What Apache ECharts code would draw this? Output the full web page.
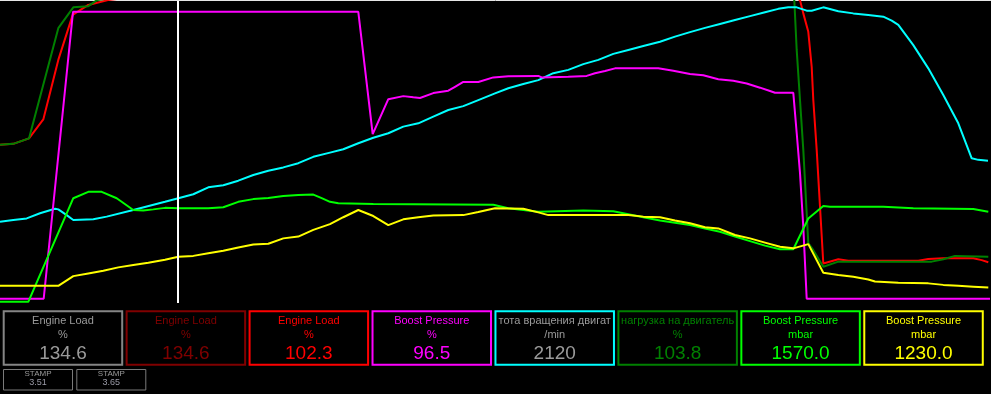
<!DOCTYPE html>
<html>
<head>
<meta charset="utf-8">
<script src="https://cdn.jsdelivr.net/npm/echarts@6/dist/echarts.min.js"></script>
<style>
html,body{margin:0;padding:0;background:#000;}
#c{width:991px;height:394px;}
</style>
</head>
<body>
<div id="c"></div>
<script>
// time axis (s) and cursor position
const timeRange = [0, 99.1];
const cursorTime = 17.8;

// values in % of full scale, [time, value]
const engineLoad = [[0,52.4],[1.33,52.7],[2.9,54.5],[4.33,60.8],[5.83,80.5],[7.27,95.4],[8.83,98.7],[10.8,100.3],[13,101.2],[17.8,102.3],[30,104],[50,105],[70,105],[78,104],[80,100.3],[80.33,95.9],[80.83,89.8],[81.17,78.2],[81.33,67.2],[81.67,50.7],[82,31.9],[82.33,13.1],[82.5,12.6],[83.83,14.5],[84.83,14.0],[91.83,14.0],[92.83,14.6],[94.33,14.8],[97.33,14.8],[98.17,14.2],[98.83,13.5]];

const engineLoadAlt = [[0,52.4],[1.33,52.7],[2.9,54.5],[5.83,91.0],[7.33,97.9],[8.83,98.3],[9.7,100.3],[17.8,103.8],[30,106],[60,107],[78,106],[79.43,100.3],[79.67,83.8],[80,67.2],[80.33,50.7],[80.67,29.7],[80.83,19.8],[81.33,17.5],[82.33,12.0],[83.83,13.7],[93.17,13.7],[94.33,14.5],[95.5,15.6],[98.83,15.3]];

const boostPct = [[0,1.4],[4.37,1.4],[7.3,96.4],[35.83,96.4],[37.27,55.9],[38.83,67.5],[40.33,68.5],[41.33,68.1],[42,67.9],[43.33,69.5],[44.83,70.3],[45.5,71.6],[46.33,73.2],[47.83,73.2],[49.33,74.7],[50.83,75.1],[53.83,75.2],[54.17,74.7],[56.83,74.9],[58.67,75.2],[59.5,76.1],[60.5,76.8],[61.5,77.7],[65.83,77.7],[67.33,76.9],[69,75.8],[70.33,75.4],[71.83,74.1],[73.33,73.6],[74.67,72.7],[76,71.3],[77,70.2],[77.5,69.6],[79.33,69.6],[79.67,56.3],[80,43.0],[80.33,25.2],[80.67,1.4],[99.0,1.4]];

const engineSpeed = [[0,26.9],[1.33,27.5],[2.67,28.0],[4,29.7],[5.5,31.2],[5.83,31.0],[6.67,29.1],[7.33,27.5],[9.33,27.7],[10.67,28.6],[13.33,30.8],[16.5,33.5],[17.83,34.7],[19.33,36.0],[20.83,38.3],[22.33,39.0],[23.83,40.5],[25.33,42.4],[26.83,43.8],[28.33,44.9],[29.83,46.3],[31.33,48.4],[33,49.8],[34.33,50.9],[35.83,52.9],[37.33,54.7],[38.83,56.2],[40.33,58.4],[41.83,59.5],[43.33,61.7],[44.83,63.9],[46.33,65.2],[47.83,67.2],[49.5,69.4],[50.83,71.1],[52.33,72.5],[53.83,73.8],[55.33,76.1],[56.83,77.2],[58.33,79.1],[59.83,80.5],[61.33,82.5],[62.83,83.8],[64.33,85.1],[66,86.5],[67.5,88.2],[69,89.7],[70.5,91.1],[72,92.4],[73.5,93.7],[75,95.0],[76.5,96.3],[77.83,97.4],[78.83,97.9],[79.67,97.9],[80.67,96.8],[81.17,96.8],[82.33,97.9],[83.83,96.6],[85.33,95.9],[86.83,95.4],[88.33,94.8],[89.17,93.5],[89.83,92.1],[91.33,85.4],[92.83,77.7],[94.33,68.9],[95.83,59.5],[97.17,47.9],[97.83,47.4],[98.8,47.1]];

const boostActual = [[0,0.4],[2.83,0.4],[7.33,34.7],[8.83,36.8],[10.17,36.8],[11.67,34.7],[13.33,30.8],[14.33,30.6],[15.33,31.0],[16.5,31.5],[17.83,31.4],[20.83,31.4],[22.33,31.7],[23.83,33.5],[25.33,34.4],[26.83,34.8],[28.33,35.4],[29.83,35.8],[31.33,35.9],[32.17,34.7],[33,33.5],[33.83,33.0],[37.33,32.8],[37.5,32.5],[49.33,32.5],[50.83,31.4],[53.83,30.2],[58.33,30.6],[61.33,30.4],[62.83,29.4],[64.33,28.4],[66,27.3],[67.5,26.6],[69,25.8],[70.5,24.7],[72,23.6],[73.5,22.0],[75,20.5],[76.5,19.0],[78,17.8],[79.33,17.8],[80.83,28.0],[82.33,32.1],[83,31.9],[88.33,31.9],[88.5,31.6],[91.33,31.4],[91.5,31.1],[97.33,31.1],[98.83,30.2]];

const boostSpecified = [[0,5.7],[5.83,5.7],[7.33,8.9],[8.83,9.8],[10.33,10.7],[11.83,11.8],[13.33,12.6],[14.83,13.3],[16.5,14.3],[17.83,15.3],[19.33,15.6],[20.83,16.5],[22.33,17.3],[23.83,18.4],[25.33,19.4],[26.83,19.6],[28.33,21.4],[29.83,22.0],[31.33,24.2],[33,26.1],[34.33,28.4],[35.83,30.8],[37.33,28.8],[38.83,25.8],[40.33,27.7],[41.83,28.4],[43.33,29.0],[46.33,29.1],[47.83,30.1],[49.5,31.4],[52.33,31.2],[53.83,30.0],[54.83,29.1],[62.83,29.1],[64.33,28.6],[66,28.4],[67.5,27.3],[69,26.4],[70.5,25.1],[71.83,24.7],[73.5,22.5],[75,21.4],[76.5,20.0],[78,18.6],[79.33,18.1],[80.83,19.5],[82.33,10.0],[83.83,9.3],[85.33,8.7],[86.83,7.8],[87.5,7.1],[89.83,6.7],[92.83,6.5],[94.33,6.0],[95.83,5.7],[97.33,5.4],[98.83,5.1]];

// readout panels at the cursor
const panelTitles = ['Engine Load','Engine Load','Engine Load','Boost Pressure','тота вращения двигат','нагрузка на двигатель','Boost Pressure','Boost Pressure'];
const panelUnits = ['%','%','%','%','/min','%','mbar','mbar'];
const panelValues = ['134.6','134.6','102.3','96.5','2120','103.8','1570.0','1230.0'];
const stampLabels = ['STAMP','STAMP'];
const stampValues = ['3.51','3.65'];

// styles
const panelBorder = ['#858585','#800000','#ff0000','#ff00ff','#00ffff','#008000','#00ff00','#ffff00'];
const panelText = ['#9a9a9a','#800000','#ff0000','#ff00ff','#9a9a9a','#008000','#00ff00','#ffff00'];
const FONT = '"Liberation Sans", Arial, sans-serif';

const chart = echarts.init(document.getElementById('c'), null, {renderer:'canvas'});

function lineSeries(name, data, color, extra) {
  return Object.assign({
    name, type:'line', data, symbol:'none', showSymbol:false,
    lineStyle:{color, width:2}, itemStyle:{color},
    animation:false, silent:true, clip:true
  }, extra || {});
}

const graphics = [];
graphics.push({type:'line', shape:{x1:0,y1:0.5,x2:991,y2:0.5}, style:{stroke:'#e6e6e6', lineWidth:1}, silent:true});

for (let i = 0; i < panelTitles.length; i++) {
  const left = 2.7 + 122.94 * i;
  const cx = left + 60.25;
  graphics.push({type:'rect', shape:{x:left+1, y:311.3, width:118.5, height:53.4},
    style:{fill:'none', stroke:panelBorder[i], lineWidth:2}, silent:true});
  graphics.push({type:'text', x:cx, y:320.5, style:{text:panelTitles[i], fill:panelText[i], font:'11px '+FONT, textAlign:'center', textVerticalAlign:'middle', align:'center', verticalAlign:'middle'}, silent:true});
  graphics.push({type:'text', x:cx, y:334.5, style:{text:panelUnits[i], fill:panelText[i], font:'11px '+FONT, textAlign:'center', textVerticalAlign:'middle', align:'center', verticalAlign:'middle'}, silent:true});
  graphics.push({type:'text', x:cx, y:353.5, style:{text:panelValues[i], fill:panelText[i], font:'19px '+FONT, textAlign:'center', textVerticalAlign:'middle', align:'center', verticalAlign:'middle'}, silent:true});
}
for (let i = 0; i < stampLabels.length; i++) {
  const left = 3 + 73.3 * i;
  const cx = left + 35;
  graphics.push({type:'rect', shape:{x:left+0.5, y:369.5, width:69, height:20.5},
    style:{fill:'none', stroke:'#7a7a7a', lineWidth:1}, silent:true});
  graphics.push({type:'text', x:cx, y:374, style:{text:stampLabels[i], fill:'#9a9a9a', font:'8px '+FONT, textAlign:'center', textVerticalAlign:'middle', align:'center', verticalAlign:'middle'}, silent:true});
  graphics.push({type:'text', x:cx, y:382.5, style:{text:stampValues[i], fill:'#9a9aa6', font:'9px '+FONT, textAlign:'center', textVerticalAlign:'middle', align:'center', verticalAlign:'middle'}, silent:true});
}

chart.setOption({
  backgroundColor:'#000',
  animation:false,
  grid:{left:0, right:0, top:1, height:302},
  xAxis:{type:'value', min:timeRange[0], max:timeRange[1], show:false},
  yAxis:{type:'value', min:0, max:100, show:false},
  series:[
    lineSeries('Engine Load %', engineLoad, '#ff0000'),
    lineSeries('нагрузка на двигатель %', engineLoadAlt, '#008000'),
    lineSeries('тота вращения двигат /min', engineSpeed, '#00ffff'),
    lineSeries('Boost Pressure %', boostPct, '#ff00ff'),
    lineSeries('Boost Pressure mbar', boostActual, '#00ff00'),
    lineSeries('Boost Pressure mbar (spec)', boostSpecified, '#ffff00', {
      markLine:{silent:true, symbol:['none','none'], animation:false, label:{show:false},
        lineStyle:{color:'#ffffff', width:2, type:'solid'},
        data:[{xAxis:cursorTime}]}
    })
  ],
  graphic:graphics
});
</script>
</body>
</html>
